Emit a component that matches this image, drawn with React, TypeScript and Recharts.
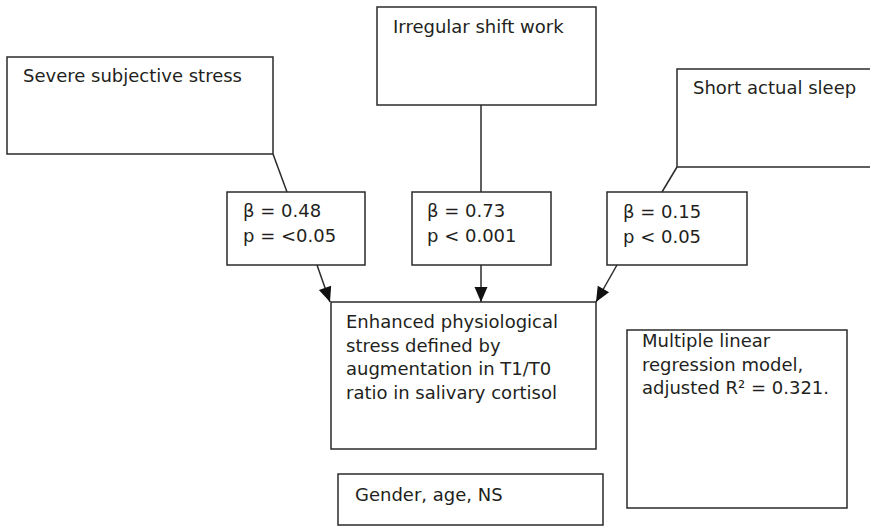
import React from 'react';
import { ScatterChart, Scatter, XAxis, YAxis, ReferenceArea, ReferenceLine } from 'recharts';

// diagram space: 1 unit = 1 px, y grows downwards
const boxNames = ['stress', 'shift', 'sleep', 'betaStress', 'betaShift', 'betaSleep', 'outcome', 'covariates', 'model'];
const boxX1 = [7, 377, 677, 227, 412, 607, 331, 338, 627];
const boxX2 = [273, 596, 900, 365, 551, 747, 596, 603, 847];
const boxY1 = [57, 7, 69, 192, 192, 192, 302, 474, 330];
const boxY2 = [154, 105, 167, 265, 265, 265, 449, 525, 508];

// one text block per box, lines split on '\n'
const blockText = [
  'Severe subjective stress',
  'Irregular shift work',
  'Short actual sleep',
  'β = 0.48\np = <0.05',
  'β = 0.73\np < 0.001',
  'β = 0.15\np < 0.05',
  'Enhanced physiological\nstress defined by\naugmentation in T1/T0\nratio in salivary cortisol',
  'Gender, age, NS',
  'Multiple linear\nregression model,\nadjusted R² = 0.321.',
];
const blockX = [23, 393, 693, 243, 427, 623, 346, 355, 642];
const blockY = [82, 33, 94, 217, 217, 218, 328, 501, 347];
const blockGap = [24, 24, 24, 25, 25, 24.5, 23.7, 24, 23.5];

// connectors: start and end points, arrow = has arrowhead at the end
const linkX1 = [273, 481, 677, 317, 481, 617];
const linkY1 = [154, 105, 167, 265, 265, 265];
const linkX2 = [287, 481, 662, 330, 481, 596];
const linkY2 = [192, 192, 192, 302, 302, 302];
const linkArrow = [false, false, false, true, true, true];

const INK = '#2b2b2b';
const FONT = "'DejaVu Sans', sans-serif";

const labels = blockText.map((text, i) => ({ x: blockX[i], y: blockY[i], gap: blockGap[i], text }));
const arrows = linkX1
  .map((x1, i) => ({ x: linkX2[i], y: linkY2[i], fromX: x1, fromY: linkY1[i], arrow: linkArrow[i] }))
  .filter(a => a.arrow);

const LabelShape = (props: any) => {
  const { cx, cy, payload } = props;
  const lines: string[] = payload.text.split('\n');
  return (
    <text x={cx} y={cy} fill="#231f20" fontSize={18} fontFamily={FONT}>
      {lines.map((line, i) => (
        <tspan key={i} x={cx} dy={i === 0 ? 0 : payload.gap}>
          {line}
        </tspan>
      ))}
    </text>
  );
};

const ArrowShape = (props: any) => {
  const { cx, cy, payload } = props;
  const ang = (Math.atan2(payload.y - payload.fromY, payload.x - payload.fromX) * 180) / Math.PI;
  return (
    <polygon
      points="0,0 -15,-6.5 -15,6.5"
      fill="#111"
      transform={`translate(${cx},${cy}) rotate(${ang})`}
    />
  );
};

export default function App() {
  return (
    <div style={{ position: 'absolute', left: 0, top: 0, width: 870, height: 526, background: '#fff' }}>
      <ScatterChart width={870} height={526} margin={{ top: 0, right: 0, bottom: 0, left: 0 }}>
        <XAxis type="number" dataKey="x" domain={[0, 870]} hide allowDataOverflow />
        <YAxis type="number" dataKey="y" domain={[0, 526]} reversed hide allowDataOverflow />
        {boxNames.map((name, i) => (
          <ReferenceArea
            key={name}
            x1={boxX1[i]}
            x2={boxX2[i]}
            y1={boxY1[i]}
            y2={boxY2[i]}
            fill="none"
            stroke={INK}
            strokeWidth={1.5}
            ifOverflow="visible"
          />
        ))}
        {linkX1.map((x1, i) => (
          <ReferenceLine
            key={'l' + i}
            segment={[{ x: x1, y: linkY1[i] }, { x: linkX2[i], y: linkY2[i] }]}
            stroke={INK}
            strokeWidth={1.5}
            ifOverflow="visible"
          />
        ))}
        <Scatter data={labels} shape={LabelShape} isAnimationActive={false} />
        <Scatter data={arrows} shape={ArrowShape} isAnimationActive={false} />
      </ScatterChart>
    </div>
  );
}
